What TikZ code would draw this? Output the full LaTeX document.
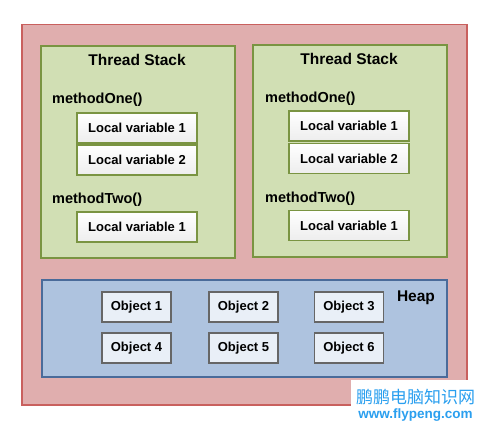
\documentclass[tikz,border=0pt]{standalone}
\usepackage{fontspec}
\setmainfont{Liberation Sans}
\newfontfamily\cjk{Noto Sans CJK SC}
\usepackage{tikz}
\usetikzlibrary{calc}
\usepackage{xcolor}
\definecolor{jvmfill}{HTML}{E0AEAE}
\definecolor{jvmline}{HTML}{C9605E}
\definecolor{stackfill}{HTML}{D1DFB4}
\definecolor{stackline}{HTML}{7A9442}
\definecolor{heapfill}{HTML}{AEC3DF}
\definecolor{heapline}{HTML}{4A6B9A}
\definecolor{objfill}{HTML}{E9EFF7}
\definecolor{objline}{HTML}{666666}
\definecolor{markblue}{HTML}{2A9FEF}

\begin{document}
\begin{tikzpicture}[x=1pt,y=-1pt,font=\bfseries,
		jvm/.style={draw=jvmline,fill=jvmfill,line width=1.5pt,anchor=north west,minimum width=445pt,minimum height=380pt},
		stack/.style={draw=stackline,fill=stackfill,line width=1.8pt,anchor=north west,minimum width=194pt,minimum height=212pt},
		localvar/.style={draw=stackline,top color=white,bottom color=black!7,line width=1.8pt,minimum width=120pt,minimum height=30pt,font=\bfseries\fontsize{13}{15}\selectfont},
		heap/.style={draw=heapline,fill=heapfill,line width=1.5pt,anchor=north west,minimum width=405pt,minimum height=97pt},
		obj/.style={draw=objline,fill=objfill,line width=1.8pt,minimum width=69pt,minimum height=30pt,font=\bfseries\fontsize{13}{15}\selectfont},
		title/.style={font=\bfseries\fontsize{15.5}{18}\selectfont},
		method/.style={anchor=west,inner sep=0pt,font=\bfseries\fontsize{14.5}{17}\selectfont}]
	\useasboundingbox (0,0) rectangle (486,435);
	\node[jvm] (jvm) at (21,24) {};
	\node[stack] (stackA) at (40,45) {};
	\node[stack] (stackB) at (252,44) {};
	\node[title] (titleA) at (137,60) {Thread Stack};
	\node[title] (titleB) at (349,59) {Thread Stack};
	\node[method] (oneA) at (52,100) {methodOne()};
	\node[localvar] (varA1) at (137,128) {Local variable 1};
	\node[localvar] (varA2) at (137,160) {Local variable 2};
	\node[method] (twoA) at (52,200) {methodTwo()};
	\node[localvar] (varA3) at (137,227) {Local variable 1};
	\node[method] (oneB) at (265,99) {methodOne()};
	\node[localvar] (varB1) at (349,126) {Local variable 1};
	\node[localvar] (varB2) at (349,158.5) {Local variable 2};
	\node[method] (twoB) at (265,199) {methodTwo()};
	\node[localvar] (varB3) at (349,225.5) {Local variable 1};
	\node[heap] (heap) at (41,279) {};
	\node[title] (heaptitle) at (416,298) {Heap};
	\foreach \i/\x/\y in {1/136.5/307,2/243.5/307,3/349/307,4/136.5/348,5/243.5/348,6/349/348}
		\node[obj] (obj\i) at (\x,\y) {Object \i};
	\fill[white] (351,380) rectangle (486,435);
	\node[markblue,font=\cjk\fontsize{17}{19}\selectfont] (mark) at (415.5,397) {鹏鹏电脑知识网};
	\node[markblue,font=\bfseries\fontsize{13.5}{16}\selectfont] (site) at (415.5,415) {www.flypeng.com};
\end{tikzpicture}
\end{document}
